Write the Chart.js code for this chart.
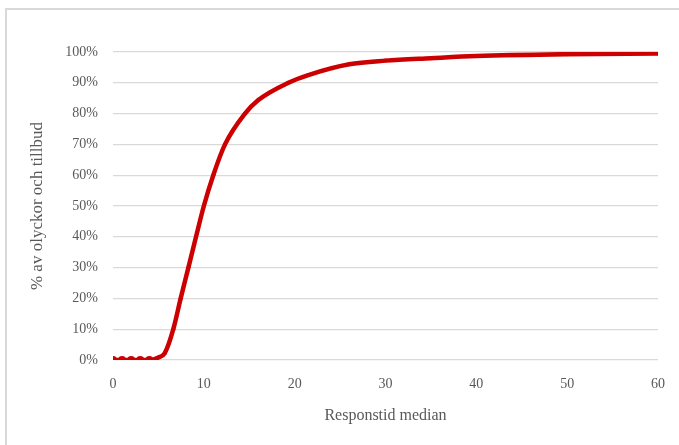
<!DOCTYPE html>
<html lang="sv">
<head>
  <meta charset="UTF-8" />
  <title>Responstid median</title>
  <style>
    body { margin: 0; padding: 0; background: #fff; }
    .frame {
      position: absolute; left: 5px; top: 8px;
      width: 800px; height: 600px;
      border-left: 2px solid #d9d9d9; border-top: 2px solid #d9d9d9;
    }
    .wrap { position: absolute; left: 0; top: 0; width: 679px; height: 445px; }
  </style>
</head>
<body>
  <div class="frame"></div>
  <div class="wrap"><canvas id="chart"></canvas></div>

  <script src="https://cdn.jsdelivr.net/npm/chart.js"></script>
  <script>
    // response time (x) vs cumulative share (%)
    const responstid = [0, 1, 2, 3, 4, 5, 5.7, 6.64, 7.45, 8.3, 9.14, 10, 11.04, 12.33, 14.53, 16, 19.3, 21.5, 26, 30, 35, 40, 50, 60];
    const andel = [0, 0, 0, 0, 0, 0.8, 2.2, 10, 20, 30, 40, 50, 60, 70, 80, 84.4, 90, 92.5, 96, 97.2, 98, 98.7, 99.3, 99.5];

    const xTitle = 'Responstid median';
    const yTitle = '% av olyckor och tillbud';

    const points = responstid.map((x, i) => ({ x: x, y: andel[i] }));

    const textColor = '#595959';
    const gridColor = '#d9d9d9';
    const fontFamily = '"Liberation Serif", "DejaVu Serif", serif';

    new Chart(document.getElementById('chart'), {
      type: 'scatter',
      data: {
        datasets: [{
          data: points,
          showLine: true,
          borderColor: '#cc0000',
          backgroundColor: '#cc0000',
          borderWidth: 4.5,
          // markers only stand out where the line is flat at 0
          pointRadius: (ctx) => (ctx.raw && ctx.raw.y === 0 ? 4 : 2),
          pointBorderWidth: 0,
          cubicInterpolationMode: 'monotone'
        }]
      },
      options: {
        responsive: true,
        maintainAspectRatio: false,
        animation: false,
        layout: { padding: { top: 52, right: 21, bottom: 0, left: 0 } },
        plugins: {
          legend: { display: false },
          tooltip: { enabled: false }
        },
        scales: {
          x: {
            type: 'linear',
            min: 0, max: 60,
            grid: { display: false },
            border: { display: false },
            ticks: {
              stepSize: 10, padding: 8, color: textColor,
              font: { family: fontFamily, size: 14 }
            },
            title: {
              display: true, text: xTitle, color: textColor,
              font: { family: fontFamily, size: 16 },
              padding: { top: 0, bottom: 20 }
            },
            afterFit: (scale) => { scale.height = 85; }
          },
          y: {
            min: 0, max: 100,
            grid: { color: gridColor, lineWidth: 1.3, drawTicks: false },
            border: { display: false },
            ticks: {
              stepSize: 10, padding: 15, color: textColor,
              font: { family: fontFamily, size: 14 },
              callback: (v) => v + '%'
            },
            title: {
              display: true, text: yTitle, color: textColor,
              font: { family: fontFamily, size: 17 },
              padding: { top: 27, bottom: 0 }
            },
            afterFit: (scale) => { scale.width = 113; }
          }
        }
      }
    });
  </script>
</body>
</html>
